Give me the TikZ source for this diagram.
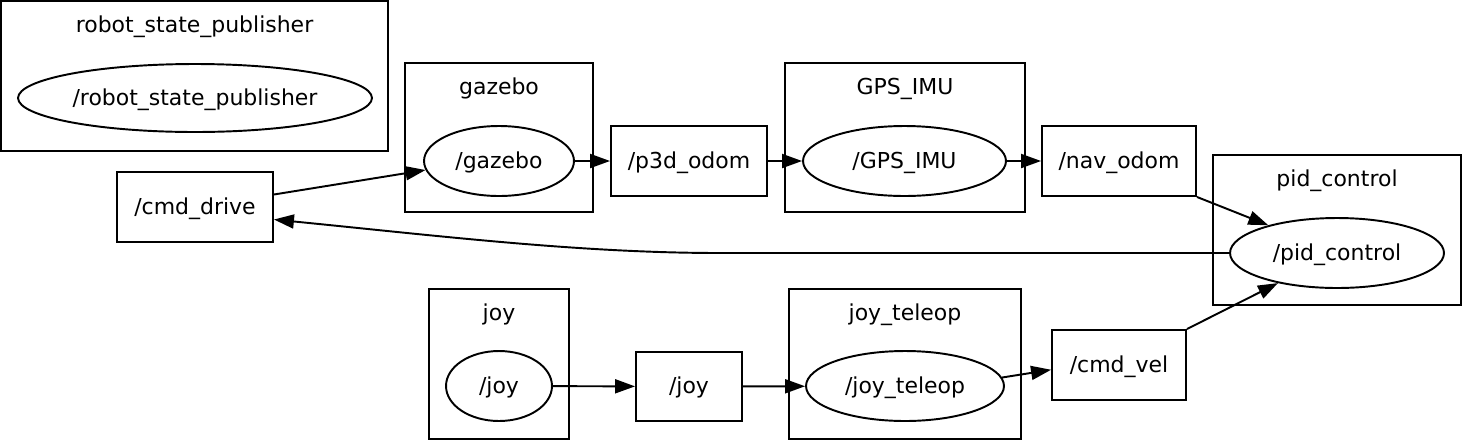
\documentclass[tikz,border=0pt]{standalone}
\usepackage{fontspec}
\setmainfont{DejaVu Sans}
\usetikzlibrary{arrows.meta,shapes.geometric,positioning}

\newcommand{\gfont}{\fontsize{12.5}{14}\selectfont}

\tikzset{
  txt/.style={font=\gfont, text height=9.6pt, text depth=1.6pt},
  topic/.style={draw, rectangle, inner sep=0pt, txt},
  rosnode/.style={draw, ellipse, inner sep=0pt, txt},
  cluster/.style={draw, rectangle, inner sep=0pt},
  clabel/.style={font=\gfont, inner sep=0pt, anchor=base},
  edge/.style={-{Triangle[length=0.4cm,width=0.28cm]}},
}

\begin{document}
\begin{tikzpicture}[x=0.02cm, y=-0.02cm, line width=1.1pt]

\useasboundingbox (0,0) rectangle (1462,440);

% groups
\node[cluster, minimum width=7.74cm, minimum height=3.0cm] (rsp_grp) at (194.5,76) {};
\node[clabel] at (194.5,32) {robot\_state\_publisher};
\node[cluster, minimum width=3.76cm, minimum height=2.98cm] (gazebo_grp) at (499,137.5) {};
\node[clabel] at (499,94) {gazebo};
\node[cluster, minimum width=4.8cm, minimum height=2.98cm] (gps_grp) at (905,137.5) {};
\node[clabel] at (905,94) {GPS\_IMU};
\node[cluster, minimum width=4.96cm, minimum height=3.0cm] (pid_grp) at (1337,230) {};
\node[clabel] at (1337,186) {pid\_control};
\node[cluster, minimum width=2.8cm, minimum height=3.0cm] (joy_grp) at (499,364) {};
\node[clabel] at (499,320) {joy};
\node[cluster, minimum width=4.64cm, minimum height=3.0cm] (teleop_grp) at (905,364) {};
\node[clabel] at (905,320) {joy\_teleop};

% nodes
\node[rosnode, minimum width=7.08cm, minimum height=1.36cm] (rsp) at (195,98) {/robot\_state\_publisher};
\node[rosnode, minimum width=3.0cm, minimum height=1.4cm] (gazebo) at (499,161) {/gazebo};
\node[rosnode, minimum width=4.06cm, minimum height=1.4cm] (gps_imu) at (904.5,161) {/GPS\_IMU};
\node[rosnode, minimum width=4.28cm, minimum height=1.4cm] (pid_control) at (1337,253) {/pid\_control};
\node[rosnode, minimum width=2.12cm, minimum height=1.4cm] (joy) at (499,386) {/joy};
\node[rosnode, minimum width=3.96cm, minimum height=1.4cm] (joy_teleop) at (905,386) {/joy\_teleop};

% topics
\node[topic, minimum width=3.12cm, minimum height=1.4cm] (cmd_drive) at (195,207) {/cmd\_drive};
\node[topic, minimum width=3.12cm, minimum height=1.4cm] (p3d_odom) at (689,161) {/p3d\_odom};
\node[topic, minimum width=3.08cm, minimum height=1.4cm] (nav_odom) at (1119,161) {/nav\_odom};
\node[topic, minimum width=2.12cm, minimum height=1.38cm] (joy_topic) at (689,386.5) {/joy};
\node[topic, minimum width=2.68cm, minimum height=1.4cm] (cmd_vel) at (1119,365) {/cmd\_vel};

% edges
\draw[edge] (cmd_drive.9.5) -- (gazebo.187);
\draw[edge] (gazebo) -- (p3d_odom);
\draw[edge] (p3d_odom) -- (gps_imu);
\draw[edge] (gps_imu) -- (nav_odom);
\draw[edge] (nav_odom.south east) -- (pid_control.158);
\draw[edge] (pid_control.west) -- (720,253) .. controls (580,253) and (440,236) .. (cmd_drive.-9.5);
\draw[edge] (joy) -- (joy_topic);
\draw[edge] (joy_topic) -- (joy_teleop);
\draw[edge] (joy_teleop.5) -- (cmd_vel.184);
\draw[edge] (cmd_vel.north east) -- (pid_control.207);

\end{tikzpicture}
\end{document}
